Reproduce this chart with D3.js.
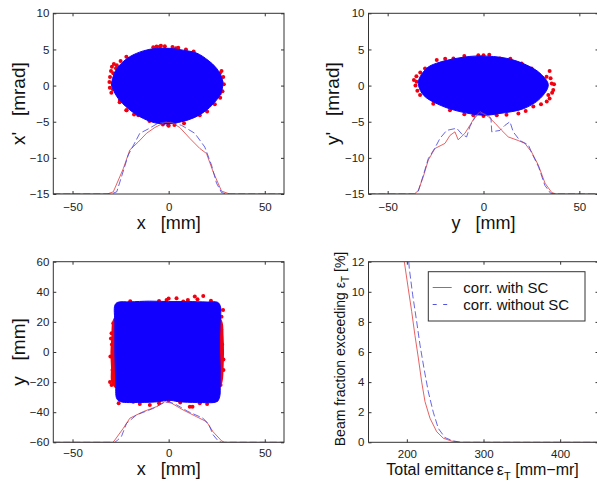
<!DOCTYPE html>
<html>
<head>
<meta charset="utf-8">
<script src="https://cdn.jsdelivr.net/npm/d3@7"></script>
<style>
body { margin: 0; background: #fff; }
svg { font-family: "Liberation Sans", Arial, Helvetica, sans-serif; }
</style>
</head>
<body>
<svg id="fig" width="597" height="483"></svg>
<script>
// ---- panel 1 : x / x' ----
var p1CloudBlue = [[-29.7,0.1],[-27.9,1.9],[-24.5,3.1],[-20.2,4.0],[-13.2,4.8],[-6.3,5.15],[0.6,5.15],[7.5,4.9],[14.5,4.5],[20.5,3.5],[24.9,2.4],[28.0,0.8],[27.5,-0.85],[24.9,-2.0],[19.7,-3.4],[13.6,-4.4],[6.7,-5.0],[-0.3,-5.3],[-7.2,-5.15],[-15,-4.3],[-21,-3.2],[-26.2,-1.8],[-28.8,-0.6]];
var p1Dots = [[-28.8,1.7],[-29.2,0.3],[-27.4,2.4],[-25.4,-2.0],[-21.9,-3.4],[-6.3,5.4],[-4.6,5.4],[3.8,5.15],[11.9,4.45],[26.6,1.7],[27.5,0.5],[26.6,-1.1],[16.2,-4.1],[-0.2,-5.5],[-9.8,-4.8],[-15.8,-4.1],
  [-30.8,0.5],[-30.5,1.2],[-30,2.0],[-29.5,2.6],[-30.6,-0.3],[-29.8,-1.0],[-28.5,3.0],[-29,-0.5],
  [-8,5.3],[-4,5.5],[-2,5.45],[2,5.35],[5,5.25],[9,5.0],[13,4.7],
  [27.5,2.0],[28.4,1.2],[28.7,0.2],[28,-0.8],[26.8,-1.7],
  [-3,-5.4],[0,-5.55],[3,-5.45],[8,-5.2],[-10,-4.9],[-18,-4.0],[-22,-3.4],[-25.5,-2.3],[20,-3.6],[24,-2.6],
  [-25,3.4],[-22,4.0],[-27,2.8]];
var p1ProfRed = [[-60,-15],[-32,-15],[-28.8,-14.7],[-23.6,-11.5],[-20.2,-8.9],[-15.8,-7.8],[-11.5,-6.6],[-7.2,-5.8],[-2.0,-5.1],[1.5,-5.1],[5.8,-5.8],[11.0,-7.3],[16.2,-8.7],[19.7,-9.4],[23.1,-11.9],[27.5,-14.6],[31.8,-15],[60,-15]];
var p1ProfBlue = [[-60,-15],[-30,-15],[-27,-14.7],[-24.5,-12.6],[-21,-9.6],[-15,-6.6],[-10.6,-6.0],[-5.5,-5.2],[0,-5.0],[6.7,-5.5],[13.6,-6.6],[18.8,-8.5],[22.3,-11],[24.9,-13.5],[27.5,-14.8],[30,-15],[60,-15]];

// ---- panel 2 : y / y' ----
var p2CloudBlue = [[-34.0,0.5],[-29.6,2.4],[-24.4,3.1],[-12.3,3.85],[-1.8,4.1],[12.1,3.77],[22.5,2.84],[29.5,1.7],[33.8,0.1],[29.5,-1.8],[20.8,-3.2],[8.6,-3.85],[-0.1,-4.1],[-12.3,-3.6],[-22.7,-2.7],[-31.4,-1.3]];
var p2Dots = [[-36.3,0.76],[-34.9,0.53],[-30.5,2.38],[-24.4,3.53],[-15.7,3.76],[-2.7,4.2],[0,4.2],[8.6,3.76],[19.9,3.07],[25.1,2.38],[32.9,1.22],[35.6,0.3],[36.4,-0.62],[33.8,-1.3],[33,-2.2],[26,-2.9],[18.2,-3.85],[6.9,-4.1],[-5.3,-4.1],[-17.5,-3.4],[-26.2,-2.5],[-33.1,-1.3],
  [-35.5,0],[-35,1.3],[-33,1.8],[-34.5,-0.7],
  [35,1.0],[36.8,0.2],[35.8,-1.0],[34.5,-1.8],[34.5,2.0],
  [-20,3.7],[-10,4.1],[3,4.25],[14,3.7],
  [-10,-3.95],[0,-4.2],[12,-4.05],[22,-3.5],[30,-2.6]];
var p2ProfRed = [[-60,-15],[-36,-15],[-34,-14.5],[-31.4,-12.6],[-28.8,-10.3],[-25.3,-8.7],[-20.1,-8.0],[-17.5,-6.9],[-14.9,-6.4],[-13.2,-7.5],[-9.7,-6.6],[-7.1,-5.5],[-4.4,-4.3],[-1.8,-3.6],[2.5,-4.3],[6.0,-5.2],[9.5,-6.2],[12.9,-7.1],[18.1,-7.6],[21.6,-8.0],[25.1,-9.2],[28.6,-11.0],[32.1,-13.5],[35.6,-14.8],[38,-15],[60,-15]];
var p2ProfBlue = [[-60,-15],[-36,-15],[-34,-14.6],[-31.4,-12.4],[-28.8,-10.1],[-25.3,-8.6],[-22.7,-7.3],[-19.2,-6.2],[-14,-5.9],[-11,-6.8],[-8.8,-7.1],[-7,-5.6],[-4.4,-4.4],[-1.8,-3.8],[1.5,-4.0],[3.9,-4.5],[4.3,-6.4],[8.6,-6.2],[11.2,-5.5],[13.8,-5.0],[15.5,-6.4],[19,-7.6],[23.4,-8.2],[25.5,-9.5],[28.8,-11.3],[32,-13.8],[35,-14.9],[38,-15],[60,-15]];

// ---- panel 3 : x / y ----
var p3BandLeft = [[-27.5,24],[-29.3,20],[-29.8,10],[-30.3,0],[-30,-10],[-29.8,-20],[-27.5,-24]];
var p3BandRight = [[26.5,23],[28,20],[28.6,10],[28.8,0],[28.6,-10],[28,-20],[26.5,-24]];
var p3CloudBlue = [[-28,31],[-26.5,33],[-20,33.3],[-10,33.8],[0,33.5],[10,33.5],[20,33.2],[25.5,33],[27,30],[26.8,20],[26.5,10],[26.5,0],[26.8,-10],[26.8,-20],[26.5,-30],[25,-33],[15,-33.5],[5,-33],[0,-32],[-5,-33],[-15,-33.5],[-25,-33],[-27,-31],[-27.5,-20],[-27.8,-10],[-28,0],[-28,10],[-28,20]];
var p3Dots = [[-29.7,12.4],[-27.95,6.9],[-28.8,-0.9],[-27.1,-5.3],[-29.2,-12.0],[-27.95,-16.4],[-29.7,-21.9],[-26.2,-9.7],[-28.8,19.1],[-27.4,14.6],[-28.5,2.4],[-26.7,-19.7],
  [24.0,12.4],[25.7,8.0],[24.9,2.4],[26.6,-2.0],[24.0,-5.3],[25.7,-10.8],[26.95,-15.3],[24.9,19.1],[27.5,23.5],[28.3,27.9],[24.5,-18.6],
  [-16.7,32.3],[-8.0,31.9],[-1.1,34.6],[4.1,35.7],[7.6,33.5],[13.6,36.8],[18.0,37.2],[-13.2,31.2],[2.4,31.2],
  [-23.6,-29.7],[-9.8,-35.2],[-1.1,-30.8],[4.1,-28.6],[9.3,-31.9],[16.2,-34.1],[24.9,-31.9],[-18.4,-33.0],[11.0,-36.3],[12.4,-36.3],
  [-0.2,12.4],[11.9,4.6],[-12.4,3.5],[14.5,-2.0],
  [-20,33.8],[-5,33.9],[0,35.5],[10,34.5],[15,35],[22,34],
  [-15,-34.5],[-5,-34],[0,-32],[6,-33.5],[20,-34.5],[-26,-34],
  [-30.3,-3],[-29.5,5],[-30,9],[-29,-14],[-30.5,-20],
  [27.8,5],[28.5,-5],[27.3,15],[28.5,-12],[27,-22]];
var p3ProfRed = [[-60,-60],[-29,-60],[-28,-58.5],[-23.6,-50.7],[-20.2,-44],[-13.2,-39.6],[-6.3,-36.3],[-2,-33],[1.5,-34],[7.5,-38.5],[14.5,-43],[19.7,-46.3],[23.1,-53],[27.5,-59],[29,-60],[60,-60]];
var p3ProfBlue = [[-60,-60],[-28,-60],[-26.5,-58.5],[-24.5,-56],[-21.9,-47.4],[-16.7,-41.8],[-8,-37.5],[-3,-34],[0,-33],[4,-35],[10,-39.5],[17.9,-44],[21,-48.5],[23.1,-55],[25.7,-59],[27.5,-60],[60,-60]];

// ---- panel 4 : emittance ----
var p4WithSC = [[196.7,12],[201.9,10.2],[206.3,8.7],[210.6,7.1],[215,5.6],[219.4,4.0],[223.7,2.7],[230.2,1.6],[239,0.7],[247.6,0.27],[258.5,0.08],[270,0],[450,0]];
var p4WithoutSC = [[202.5,12],[203.2,11.56],[207.6,9.8],[212.9,8.0],[217.2,6.46],[222.4,4.9],[228,3.36],[234.5,2.0],[241,0.93],[249.8,0.31],[260,0.1],[270,0],[450,0]];
var legendNames = ["corr. with SC", "corr. without SC"];

var ticksXmm = [-50, 0, 50];
var ticksMrad = [-15, -10, -5, 0, 5, 10];
var ticksYmm = [-60, -40, -20, 0, 20, 40, 60];
var ticksEmit = [200, 300, 400];
var ticksFrac = [0, 2, 4, 6, 8, 10, 12];

var RED = "#f20010", BLUE = "#1200ff", LRED = "#e03a3a", LBLUE = "#4040e0";
var svg = d3.select("#fig");

var panels = [
  {id: "p1", l: 53.3, r: 284, t: 13.3, b: 194, xd: [-60, 60], yd: [-15, 10], xt: ticksXmm, yt: ticksMrad, pad: 9,
   bands: [], cloudBlue: p1CloudBlue, dots: p1Dots, lineRed: p1ProfRed, lineBlue: p1ProfBlue,
   xlab: "x   [mm]", xlabY: 229, ylab: "x'   [mrad]", ylabX: 25},
  {id: "p2", l: 368.5, r: 598.5, t: 13.3, b: 194, xd: [-60, 60], yd: [-15, 10], xt: ticksXmm, yt: ticksMrad, pad: 9,
   bands: [], cloudBlue: p2CloudBlue, dots: p2Dots, lineRed: p2ProfRed, lineBlue: p2ProfBlue,
   xlab: "y   [mm]", xlabY: 229, ylab: "y'   [mrad]", ylabX: 339},
  {id: "p3", l: 53.3, r: 284, t: 261.7, b: 442.3, xd: [-60, 60], yd: [-60, 60], xt: ticksXmm, yt: ticksYmm, pad: 6.5,
   bands: [p3BandLeft, p3BandRight], cloudBlue: p3CloudBlue, dots: p3Dots, lineRed: p3ProfRed, lineBlue: p3ProfBlue,
   xlab: "x   [mm]", xlabY: 475, ylab: "y   [mm]", ylabX: 25},
  {id: "p4", l: 368.5, r: 598.5, t: 261.7, b: 442.3, xd: [150, 450], yd: [0, 12], xt: ticksEmit, yt: ticksFrac, pad: 8,
   lineRed: p4WithSC, lineBlue: p4WithoutSC}
];

panels.forEach(function (p) {
    var x = d3.scaleLinear().domain(p.xd).range([p.l, p.r]);
    var y = d3.scaleLinear().domain(p.yd).range([p.b, p.t]);
    var g = svg.append("g");

    svg.append("clipPath").attr("id", "clip-" + p.id)
        .append("rect")
        .attr("x", p.l).attr("y", p.t)
        .attr("width", p.r - p.l).attr("height", p.b - p.t);

    var plot = g.append("g").attr("clip-path", "url(#clip-" + p.id + ")");
    var blob = d3.line().x(function (d) { return x(d[0]); }).y(function (d) { return y(d[1]); })
        .curve(d3.curveCatmullRomClosed);
    var line = d3.line().x(function (d) { return x(d[0]); }).y(function (d) { return y(d[1]); });

    if (p.cloudBlue) {
        plot.selectAll("path.band").data(p.bands).enter().append("path")
            .attr("class", "band").attr("d", blob).attr("fill", RED);
        plot.selectAll("circle.dot").data(p.dots).enter().append("circle")
            .attr("class", "dot")
            .attr("cx", function (d) { return x(d[0]); })
            .attr("cy", function (d) { return y(d[1]); })
            .attr("r", 2)
            .attr("fill", RED);
        plot.append("path").datum(p.cloudBlue).attr("d", blob).attr("fill", BLUE)
            .attr("stroke", BLUE).attr("stroke-width", 1);
    }

    plot.append("path").datum(p.lineRed).attr("d", line)
        .attr("fill", "none").attr("stroke", LRED).attr("stroke-width", 0.8);
    plot.append("path").datum(p.lineBlue).attr("d", line)
        .attr("fill", "none").attr("stroke", LBLUE).attr("stroke-width", 0.8)
        .attr("stroke-dasharray", "7,3");

    // box
    g.append("rect")
        .attr("x", p.l).attr("y", p.t)
        .attr("width", p.r - p.l).attr("height", p.b - p.t)
        .attr("fill", "none").attr("stroke", "#333").attr("stroke-width", 1);

    function style(a) {
        a.select(".domain").remove();
        a.attr("font-family", null).attr("font-size", null);
        a.selectAll("line").attr("stroke", "#333");
        a.selectAll("text").attr("fill", "#222").style("font-size", "11.5px");
    }

    g.append("g").attr("transform", "translate(0," + p.b + ")")
        .call(d3.axisBottom(x).tickValues(p.xt).tickSize(-3).tickPadding(p.pad)).call(style);
    g.append("g").attr("transform", "translate(0," + p.t + ")")
        .call(d3.axisTop(x).tickValues(p.xt).tickSize(-3).tickFormat("")).call(style);
    g.append("g").attr("transform", "translate(" + p.l + ",0)")
        .call(d3.axisLeft(y).tickValues(p.yt).tickSize(-3).tickPadding(4)).call(style);
    g.append("g").attr("transform", "translate(" + p.r + ",0)")
        .call(d3.axisRight(y).tickValues(p.yt).tickSize(-3).tickFormat("")).call(style);

    if (p.xlab) {
        g.append("text")
            .attr("x", (p.l + p.r) / 2).attr("y", p.xlabY)
            .attr("text-anchor", "middle")
            .style("white-space", "pre").style("font-size", "18px").attr("fill", "#111")
            .text(p.xlab);
        g.append("text")
            .attr("transform", "translate(" + p.ylabX + "," + ((p.t + p.b) / 2) + ") rotate(-90)")
            .attr("text-anchor", "middle")
            .style("white-space", "pre").style("font-size", "19px").attr("fill", "#111")
            .text(p.ylab);
    }

    if (p.id === "p4") {
        var xl = g.append("text")
            .attr("x", (p.l + p.r) / 2 - 1).attr("y", 475)
            .attr("text-anchor", "middle")
            .style("font-size", "16px").attr("fill", "#111");
        xl.append("tspan").text("Total emittance");
        xl.append("tspan").attr("dx", 3).text("ε");
        xl.append("tspan").attr("dy", 5).style("font-size", "11px").text("T");
        xl.append("tspan").attr("dy", -5).text(" [mm−mr]");

        var yl = g.append("text")
            .attr("transform", "translate(345," + ((p.t + p.b) / 2 - 3) + ") rotate(-90)")
            .attr("text-anchor", "middle")
            .style("font-size", "14px").attr("fill", "#111");
        yl.append("tspan").text("Beam fraction exceeding ");
        yl.append("tspan").text("ε");
        yl.append("tspan").attr("dy", 4).style("font-size", "10px").text("T");
        yl.append("tspan").attr("dy", -4).text(" [%]");

        // legend
        var lg = g.append("g");
        lg.append("rect")
            .attr("x", 428.3).attr("y", 271.7).attr("width", 156.7).attr("height", 49.3)
            .attr("fill", "#fff").attr("stroke", "#333").attr("stroke-width", 1);
        var rows = [{c: LRED, dash: null, y: 287.5}, {c: LBLUE, dash: "4,6.5", y: 304.5}];
        lg.selectAll("line.key").data(legendNames).enter().append("line")
            .attr("class", "key")
            .attr("x1", 432.7).attr("x2", 451.7)
            .attr("y1", function (d, i) { return rows[i].y; })
            .attr("y2", function (d, i) { return rows[i].y; })
            .attr("stroke", function (d, i) { return rows[i].c; })
            .attr("stroke-width", 0.9)
            .attr("stroke-dasharray", function (d, i) { return rows[i].dash; });
        lg.selectAll("text.key").data(legendNames).enter().append("text")
            .attr("class", "key")
            .attr("x", 463.3)
            .attr("y", function (d, i) { return rows[i].y + 5.5; })
            .style("font-size", "15px").attr("fill", "#111")
            .text(function (d) { return d; });
    }
});
</script>
</body>
</html>
